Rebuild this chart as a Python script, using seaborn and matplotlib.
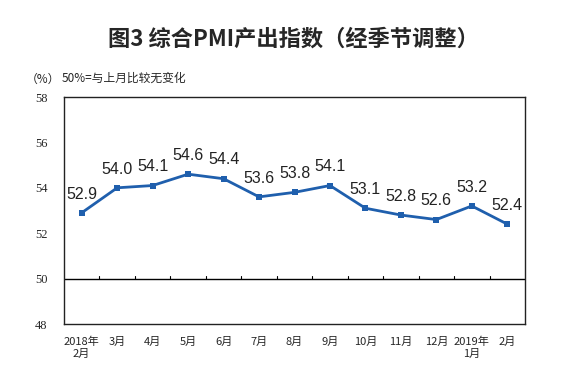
import numpy as np
import pandas as pd
import matplotlib
matplotlib.use("Agg")
import matplotlib.pyplot as plt
import seaborn as sns

# 数据
months = ["2018年\n2月", "3月", "4月", "5月", "6月", "7月", "8月", "9月",
          "10月", "11月", "12月", "2019年\n1月", "2月"]
pmi = [52.9, 54.0, 54.1, 54.6, 54.4, 53.6, 53.8, 54.1, 53.1, 52.8, 52.6, 53.2, 52.4]

sns.set_style("white")
plt.rcParams['font.family'] = ['Noto Sans CJK SC', 'DejaVu Sans']

df = pd.DataFrame({"pos": np.arange(len(months)), "pmi": pmi})

fig = plt.figure(figsize=(5.79, 3.78), dpi=100)
ax = fig.add_axes([64 / 579, 1 - 324 / 378, (525 - 64) / 579, (324 - 97) / 378])

line_color = "#1f5fad"
sns.lineplot(data=df, x="pos", y="pmi", ax=ax, color=line_color, linewidth=2,
             marker="s", markersize=5, markeredgewidth=0)

# 数据标签
for xi, yi in zip(df["pos"], df["pmi"]):
    ax.annotate(f"{yi:.1f}", (xi, yi), xytext=(0, 13.5), textcoords="offset points",
                ha="center", va="center", fontsize=11.5, family="Liberation Sans",
                color="#222222")

# 50线及其刻度
ax.axhline(50, color="black", linewidth=1)
for b in np.arange(0.5, len(months) - 1, 1.0):
    ax.plot([b, b], [50, 50.12], color="black", linewidth=0.8)

ax.set_xlim(-0.5, len(months) - 0.5)
ax.set_ylim(48, 58)
ax.set_yticks([48, 50, 52, 54, 56, 58])
ax.set_yticklabels(["48", "50", "52", "54", "56", "58"], family="Liberation Serif",
                   fontsize=9)
ax.set_xticks(df["pos"])
ax.set_xticklabels(months, fontsize=8, linespacing=1.3)
ax.tick_params(axis="x", length=0, pad=9)
ax.tick_params(axis="y", length=0, pad=12)
ax.set_xlabel("")
ax.set_ylabel("")
for s in ax.spines.values():
    s.set_color("#222222")
    s.set_linewidth(1)

fig.text(293 / 579, 1 - 39 / 378, "图3 综合PMI产出指数（经季节调整）", ha="center", va="center",
         fontsize=16, fontweight="bold")
fig.text(26 / 579, 1 - 79 / 378, "（%）", ha="left", va="center", fontsize=8.5)
fig.text(62 / 579, 1 - 78 / 378, "50%=与上月比较无变化", ha="left", va="center", fontsize=8.5)

fig.savefig("out.png", dpi=100)
